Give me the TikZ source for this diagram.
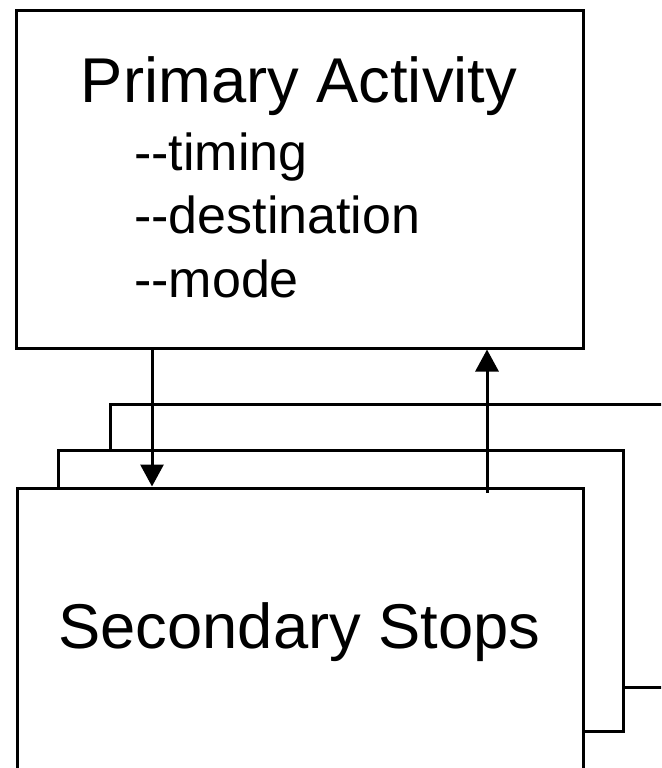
\documentclass[tikz,border=0pt]{standalone}
\usepackage{fontspec}
\setmainfont{Liberation Sans}
\usetikzlibrary{arrows.meta}

\newcommand{\bigfont}{\fontsize{63.3}{63}\selectfont}
\newcommand{\subfont}{\fontsize{52}{52}\selectfont}

\begin{document}
\begin{tikzpicture}[
    x=1pt, y=-1pt,
    stack/.style={rectangle, draw=black, fill=white, line width=3pt, inner sep=0pt},
    flow/.style={-{Triangle[width=23pt,length=22pt]}, line width=3pt},
    title/.style={font=\bigfont, inner sep=0pt, anchor=base},
    item/.style={font=\subfont, inner sep=0pt, anchor=base west}
]
\useasboundingbox (0,0) rectangle (661,768);
\clip (0,0) rectangle (661,768);

% Secondary stops (stacked, back to front)
\node[stack, minimum width=590pt, minimum height=283pt] (back) at (405,545.5) {};
\node[stack, minimum width=565pt, minimum height=281pt] (middle) at (340.5,590.5) {};
\node[stack, minimum width=566pt, minimum height=312pt] (secondary) at (300,644) {};

% Primary activity
\node[stack, minimum width=567pt, minimum height=337pt] (primary) at (299.5,179.5) {};

% Texts
\node[title] (ptitle) at (299,102) {Primary Activity};
\node[item] (timing) at (134,170) {-{}-timing};
\node[item] (dest) at (134,233) {-{}-destination};
\node[item] (mode) at (134,297) {-{}-mode};
\node[title] (stitle) at (299.5,648) {Secondary Stops};

% Arrows
\draw[flow] ([xshift=-147.5pt]primary.south) -- ([xshift=-148pt]secondary.north);
\draw[flow] ([xshift=187pt,yshift=-6pt]secondary.north) -- ([xshift=187.5pt]primary.south);

\end{tikzpicture}
\end{document}
